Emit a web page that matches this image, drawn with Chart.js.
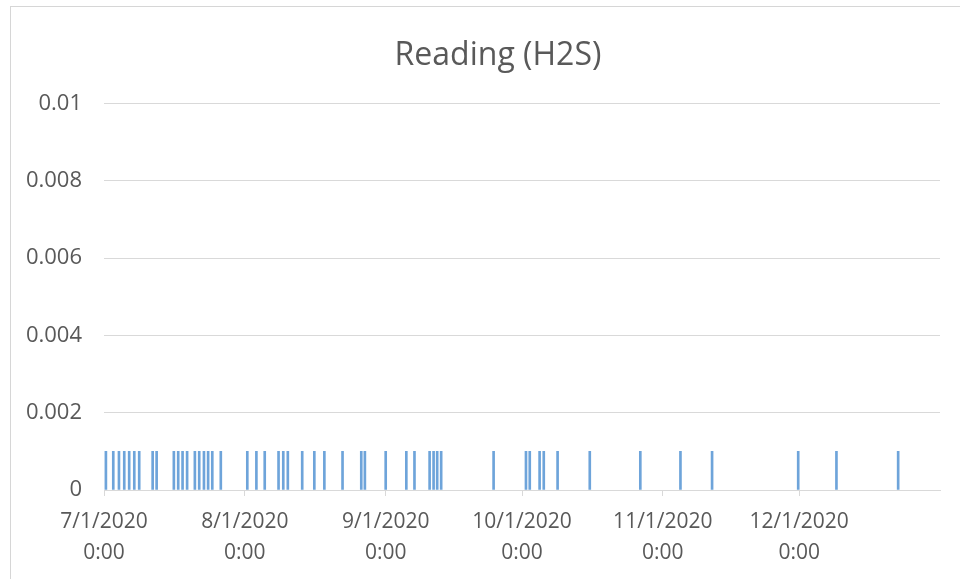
<!DOCTYPE html>
<html>
<head>
<meta charset="utf-8">
<title>Reading (H2S)</title>
<script src="https://cdn.jsdelivr.net/npm/chart.js@4.4.0/dist/chart.umd.min.js"></script>
<style>
  html, body { margin: 0; padding: 0; background: #fff; }
  #wrap { position: relative; width: 960px; height: 579px; overflow: hidden; }
  #frame { position: absolute; left: 10px; top: 6px; width: 980px; height: 600px;
           border-left: 1px solid #d6d6d6; border-top: 1px solid #d6d6d6; }
  canvas { position: absolute; left: 0; top: 0; }
</style>
</head>
<body>
<div id="wrap">
  <div id="frame"></div>
  <canvas id="h2sChart" width="960" height="579"></canvas>
</div>
<script>
// lectures H2S (date/heure UTC) - toutes a 0.001
const readingDates = [
  "2020-07-01T10:00Z", "2020-07-03T01:00Z", "2020-07-04T07:00Z", "2020-07-05T11:00Z",
  "2020-07-06T13:00Z", "2020-07-07T16:00Z", "2020-07-08T18:00Z", "2020-07-11T17:00Z",
  "2020-07-12T14:00Z", "2020-07-16T09:00Z", "2020-07-17T08:00Z", "2020-07-18T07:00Z",
  "2020-07-19T07:00Z", "2020-07-21T00:00Z", "2020-07-21T23:00Z", "2020-07-23T00:00Z",
  "2020-07-23T22:00Z", "2020-07-24T20:00Z", "2020-07-26T17:00Z",
  "2020-08-01T13:00Z", "2020-08-03T13:00Z", "2020-08-05T09:00Z", "2020-08-08T10:00Z",
  "2020-08-09T11:00Z", "2020-08-10T11:00Z", "2020-08-13T15:00Z", "2020-08-16T07:00Z",
  "2020-08-18T12:00Z", "2020-08-22T12:00Z", "2020-08-26T15:00Z", "2020-08-27T10:00Z",
  "2020-09-01T00:00Z", "2020-09-05T13:00Z", "2020-09-07T08:00Z", "2020-09-10T16:00Z",
  "2020-09-11T13:00Z", "2020-09-12T08:00Z", "2020-09-13T05:00Z",
  "2020-09-24T18:00Z", "2020-10-01T21:00Z", "2020-10-02T17:00Z", "2020-10-04T21:00Z",
  "2020-10-05T19:00Z", "2020-10-08T20:00Z", "2020-10-15T22:00Z", "2020-10-27T01:00Z",
  "2020-11-04T21:00Z", "2020-11-11T20:00Z", "2020-11-30T19:00Z", "2020-12-09T05:00Z",
  "2020-12-22T19:00Z"
];
const readingValues = [
  0.001, 0.001, 0.001, 0.001, 0.001, 0.001, 0.001, 0.001,
  0.001, 0.001, 0.001, 0.001, 0.001, 0.001, 0.001, 0.001,
  0.001, 0.001, 0.001,
  0.001, 0.001, 0.001, 0.001, 0.001, 0.001, 0.001, 0.001,
  0.001, 0.001, 0.001, 0.001, 0.001, 0.001, 0.001, 0.001,
  0.001, 0.001, 0.001,
  0.001, 0.001, 0.001, 0.001, 0.001, 0.001, 0.001, 0.001,
  0.001, 0.001, 0.001, 0.001, 0.001
];
const tickDates = ["2020-07-01T00:00Z", "2020-08-01T00:00Z", "2020-09-01T00:00Z",
                   "2020-10-01T00:00Z", "2020-11-01T00:00Z", "2020-12-01T00:00Z"];
const tickLabels = [["7/1/2020", "0:00"], ["8/1/2020", "0:00"], ["9/1/2020", "0:00"],
                    ["10/1/2020", "0:00"], ["11/1/2020", "0:00"], ["12/1/2020", "0:00"]];
const yTicks = [0, 0.002, 0.004, 0.006, 0.008, 0.01];

const startMs = Date.parse("2020-07-01T00:00Z");
const endMs = Date.parse("2021-01-01T00:00Z");
const DAY = 86400000;
const toDay = (s) => (Date.parse(s) - startMs) / DAY;

const points = readingDates.map((d, i) => ({ x: toDay(d), y: readingValues[i] }));
const tickDays = tickDates.map(toDay);

const textColor = "#595959";
const lineColor = "#d9d9d9";

// le titre Excel est un peu decale vers la droite
const shiftTitle = {
  id: "shiftTitle",
  afterLayout(chart) {
    if (chart.titleBlock) chart.titleBlock.left = 56;
  },
};

const ctx = document.getElementById("h2sChart").getContext("2d");
new Chart(ctx, {
  type: "bar",
  data: {
    datasets: [
      {
        label: "Reading (H2S)",
        data: points,
        backgroundColor: "#6ea4da",
        barThickness: 2,
      },
    ],
  },
  options: {
    responsive: false,
    animation: false,
    layout: { padding: { left: 0, right: 20, top: 0, bottom: 0 } },
    plugins: {
      legend: { display: false },
      tooltip: { enabled: false },
      title: {
        display: true,
        text: "Reading (H2S)",
        color: textColor,
        font: { family: "'Open Sans'", size: 32, weight: "normal" },
        padding: { top: 37, bottom: 28 },
      },
    },
    scales: {
      x: {
        type: "linear",
        offset: false,
        min: 0,
        max: (endMs - startMs) / DAY,
        afterBuildTicks: (scale) => {
          scale.ticks = tickDays.map((v) => ({ value: v }));
        },
        afterFit: (scale) => { scale.height = 89; },
        grid: { display: true, drawOnChartArea: false, drawTicks: true, tickLength: 6, color: lineColor, offset: false },
        border: { display: true, color: lineColor },
        ticks: {
          autoSkip: false,
          maxRotation: 0,
          padding: 11,
          color: textColor,
          font: { family: "'Open Sans'", size: 21, lineHeight: 1.45 },
          callback: (value, index) => tickLabels[index],
        },
      },
      y: {
        min: 0,
        max: 0.01,
        afterBuildTicks: (scale) => {
          scale.ticks = yTicks.map((v) => ({ value: v }));
        },
        afterFit: (scale) => { scale.width = 104; },
        grid: { color: lineColor, drawTicks: false },
        border: { display: false },
        ticks: {
          padding: 22,
          color: textColor,
          font: { family: "'Open Sans'", size: 22 },
          callback: (value) => String(parseFloat(value.toFixed(3))),
        },
      },
    },
  },
  plugins: [shiftTitle],
});
</script>
</body>
</html>
